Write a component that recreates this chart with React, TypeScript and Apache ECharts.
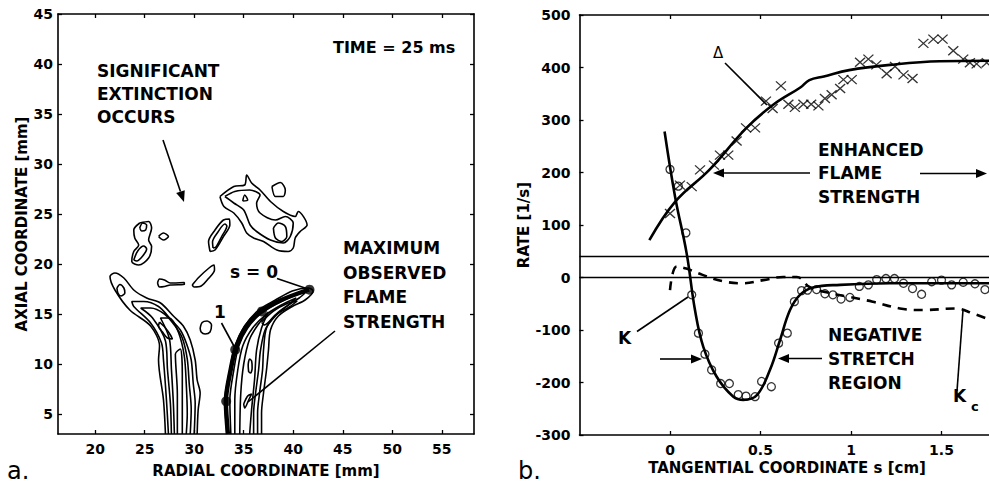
import React, { useEffect, useRef } from "react";
import * as echarts from "echarts";

// ---------- Panel b data (tangential coordinate s [cm], rate [1/s]) ----------
const deltaS = [0, 0.055, 0.12, 0.166, 0.243, 0.276, 0.322, 0.368, 0.42, 0.47, 0.53, 0.567, 0.613, 0.654, 0.69, 0.737, 0.78, 0.82, 0.856, 0.893, 0.94, 0.958, 1.004, 1.05, 1.096, 1.14, 1.197, 1.243, 1.29, 1.34, 1.4, 1.455, 1.506, 1.565, 1.62, 1.657, 1.694, 1.75];
const deltaRate = [122, 176, 173, 205, 214, 233, 233, 260, 285, 285, 336, 322, 365, 330, 324, 330, 330, 327, 341, 348, 360, 377, 377, 410, 416, 405, 388, 402, 386, 379, 446, 454, 454, 432, 416, 409, 407, 409];

const kS = [0, 0.046, 0.088, 0.12, 0.157, 0.193, 0.23, 0.28, 0.328, 0.377, 0.42, 0.47, 0.506, 0.56, 0.6, 0.648, 0.687, 0.727, 0.76, 0.81, 0.856, 0.9, 0.945, 0.994, 1.046, 1.096, 1.142, 1.193, 1.24, 1.29, 1.34, 1.39, 1.446, 1.5, 1.556, 1.62, 1.685, 1.74];
const kRate = [206, 174, 85, -33, -106, -146, -176, -202, -202, -223, -226, -227, -198, -208, -125, -106, -46, -25, -24, -23, -31, -33, -41, -38, -17, -14, -4, -2, -2, -11, -21, -32, -8, -5, -14, -9, -12, -23];

const deltaFitS = [-0.114, 0.028, 0.22, 0.42, 0.57, 0.72, 0.77, 0.85, 0.99, 1.215, 1.49, 1.77];
const deltaFitRate = [71, 144, 206, 284, 329, 362, 376, 383, 395, 405, 412, 413];

const kFitS = [-0.03, 0.028, 0.092, 0.138, 0.184, 0.258, 0.35, 0.405, 0.48, 0.552, 0.608, 0.663, 0.718, 0.79, 0.94, 1.215, 1.77];
const kFitRate = [278, 154, 46, -62, -132, -189, -227, -233, -224, -176, -119, -62, -33, -19, -14, -11, -11];

const kcS = [0, 0.037, 0.09, 0.18, 0.29, 0.405, 0.515, 0.626, 0.7, 0.77, 0.85, 0.99, 1.12, 1.27, 1.4, 1.58, 1.67, 1.77];
const kcRate = [-24, 21, 17, 5, -7, -11, -5, 1, 1, -18, -27, -37, -46, -59, -62, -59, -68, -81];

const refLines = [0, 40];

const bTicksX = [0, 0.5, 1, 1.5];
const bTicksY = [-300, -200, -100, 0, 100, 200, 300, 400, 500];

// ---------- Panel a data (radial, axial coordinate [mm]) ----------
const aTicksX = [20, 25, 30, 35, 40, 45, 50, 55];
const aTicksY = [5, 10, 15, 20, 25, 30, 35, 40, 45];

const plumeL1 = [[27.1, 3], [26.9, 6.4], [26.4, 10.4], [26.5, 11.8], [25.6, 13.8], [23.5, 15.4], [22.0, 17.4], [21.5, 18.75], [22.0, 19.1], [22.9, 18.6], [23.9, 17.4], [25.2, 16.6], [26.6, 16.1], [27.9, 14.8], [28.9, 13.8], [29.6, 12.4], [30.1, 10.4], [30.3, 8.4], [30.6, 7.1], [30.4, 5.4], [30.3, 3]];
const plumeL2 = [[27.4, 3], [27.2, 6.4], [26.9, 10.4], [26.7, 12.1], [25.6, 14.1], [23.9, 15.75], [23.7, 16.25], [24.9, 16.25], [26.4, 15.75], [27.7, 14.4], [28.6, 13.4], [29.2, 12.1], [29.7, 10.4], [29.9, 8.1], [30.1, 6.1], [30.0, 3]];
const plumeL3 = [[27.7, 3], [27.6, 6], [27.3, 9.5], [27.1, 12.3], [25.8, 14.6], [24.6, 15.6], [25.6, 15.6], [27.0, 15.0], [28.0, 13.9], [28.8, 12.6], [29.3, 10.5], [29.5, 8], [29.7, 5.5], [29.6, 3]];
const plumeL4 = [[28.0, 3], [27.9, 6], [27.7, 9.5], [27.5, 12.5], [26.6, 14.6], [27.5, 14.6], [28.4, 13.2], [29.0, 10.8], [29.2, 8], [29.3, 5], [29.2, 3]];
const plumeL5 = [[28.3, 3], [28.3, 7], [28.1, 11], [28.6, 11.5], [28.8, 9], [28.8, 5], [28.8, 3]];
const loopL1 = [[26.5, 14.2], [27.1, 13.6], [27.6, 12.9], [27.8, 12.5], [27.3, 12.6], [26.8, 13.2], [26.4, 13.8], [26.5, 14.2]];
const loopL2 = [[22.2, 17.6], [22.5, 17.95], [22.9, 17.6], [23.0, 17.1], [22.6, 16.8], [22.3, 17.1], [22.2, 17.6]];

const plumeR1 = [[33.3, 3], [33.1, 6.4], [33.6, 9.4], [34.1, 11.8], [35.1, 13.8], [36.5, 15.4], [38.2, 16.4], [39.9, 17.3], [41.5, 17.6], [42.0, 17.3], [41.2, 16.4], [39.9, 15.75], [38.5, 14.8], [37.7, 13.4], [37.5, 11.4], [37.3, 9.4], [37.0, 7.1], [36.8, 5.1], [36.8, 3]];
const plumeR2 = [[33.7, 3], [33.6, 6.4], [34.0, 9.4], [34.5, 11.8], [35.4, 13.6], [36.7, 15.0], [38.3, 16.0], [40.0, 16.8], [41.3, 17.2], [40.6, 16.6], [39.5, 15.9], [38.3, 15.0], [37.3, 13.6], [37.0, 11.4], [36.9, 9.4], [36.6, 7.1], [36.4, 5.1], [36.4, 3]];
const plumeR3 = [[34.1, 3], [34.1, 6.4], [34.4, 9.4], [34.9, 11.8], [35.9, 13.6], [37.2, 14.9], [38.8, 15.9], [40.3, 16.6], [39.4, 15.8], [38.3, 14.9], [37.2, 13.5], [36.7, 11.4], [36.5, 9.4], [36.2, 7.1], [36.0, 5.1], [36.0, 3]];
const plumeR4 = [[34.6, 3], [34.7, 7], [35.0, 10], [35.6, 12.5], [36.5, 14.0], [37.5, 15.2], [36.8, 13.6], [36.3, 11.4], [36.1, 8.5], [35.8, 5.5], [35.6, 3]];
const loopR1 = [[35.5, 9.2], [35.45, 9.9], [35.6, 10.5], [35.8, 10.3], [35.85, 9.6], [35.7, 9.1], [35.5, 9.2]];
const loopR2 = [[35.0, 6.0], [35.4, 6.8], [35.8, 7.0], [35.5, 6.4], [35.1, 5.6], [35.0, 6.0]];
const loopR3 = [[36.8, 14.2], [38.0, 15.3], [39.5, 16.1], [40.4, 16.3], [39.6, 15.7], [38.2, 14.9], [37.1, 13.9], [36.8, 14.2]];

const islandA = [[24.5, 24.1], [25.4, 24.25], [25.7, 23.6], [25.4, 22.4], [25.7, 21.75], [25.4, 20.6], [24.4, 19.9], [23.7, 20.25], [23.9, 21.25], [24.4, 21.9], [24.0, 22.6], [23.9, 23.4], [24.5, 24.1]];
const islandA1 = [[24.5, 23.6], [24.8, 24.1], [25.2, 23.9], [25.1, 23.4], [24.7, 23.3], [24.5, 23.6]];
const islandA2 = [[23.9, 20.4], [24.3, 21.3], [24.9, 21.8], [25.2, 21.5], [24.8, 20.8], [24.2, 20.3], [23.9, 20.4]];
const dotA = [[26.4, 22.75], [26.9, 23.1], [27.4, 22.75], [26.9, 22.4], [26.4, 22.75]];
const islandB = [[31.6, 21.25], [31.45, 22.25], [32.1, 23.4], [32.95, 24.4], [33.56, 24.5], [33.6, 23.9], [32.95, 22.75], [32.1, 21.4], [31.6, 21.25]];
const islandB1 = [[31.9, 21.6], [31.85, 22.2], [32.4, 23.2], [33.1, 24.0], [33.3, 23.8], [32.8, 22.8], [32.2, 21.7], [31.9, 21.6]];
const islandC = [[32.6, 26.75], [34.0, 27.75], [35.1, 27.9], [35.3, 28.9], [35.8, 28.1], [36.65, 27.4], [37.7, 26.25], [39.0, 25.25], [40.2, 24.75], [40.5, 25.25], [41.4, 23.9], [40.7, 23.25], [40.2, 22.6], [40.0, 21.6], [39.5, 21.25], [38.35, 21.4], [37.0, 22.25], [36.0, 22.6], [35.3, 23.1], [34.8, 24.1], [34.0, 25.1], [33.0, 25.75], [32.6, 26.75]];
const islandC1 = [[33.1, 26.75], [34.1, 27.25], [35.6, 27.4], [36.65, 26.9], [36.3, 26.1], [36.65, 25.1], [38.2, 24.4], [39.2, 24.75], [40.0, 24.1], [39.7, 22.75], [39.0, 22.1], [37.7, 22.4], [36.3, 23.25], [35.65, 23.9], [35.0, 25.4], [34.0, 26.1], [33.1, 26.75]];
const islandC2 = [[34.9, 26.3], [35.1, 26.9], [35.4, 26.4], [34.9, 26.3]];
const islandC3 = [[38.0, 23.6], [38.5, 24.1], [39.2, 23.75], [39.35, 22.75], [38.85, 22.25], [38.2, 22.6], [38.0, 23.6]];
const islandD = [[37.85, 27.75], [38.7, 28.15], [39.2, 27.4], [39.0, 26.75], [38.2, 26.75], [37.85, 27.75]];
const streak1 = [[26.3, 18.1], [26.5, 18.5], [27.0, 18.4], [27.6, 18.1], [29.0, 18.15], [29.0, 17.95], [27.6, 17.9], [27.0, 17.75], [26.5, 17.7], [26.3, 18.1]];
const streak2 = [[29.8, 17.9], [30.5, 18.7], [31.5, 19.6], [32.0, 19.9], [32.05, 19.4], [31.4, 18.5], [30.7, 17.8], [30.0, 17.7], [29.8, 17.9]];
const circleM = [[30.6, 13.6], [30.8, 14.15], [31.3, 14.3], [31.75, 13.9], [31.6, 13.2], [31.1, 13.0], [30.7, 13.2], [30.6, 13.6]];

const flamePath = [[33.4, 3], [33.2, 6.3], [33.7, 9.5], [34.15, 11.4], [35.2, 13.7], [36.8, 15.3], [38.8, 16.4], [41.6, 17.45]];
const flameDots = [[41.64, 17.43], [36.83, 15.26], [34.14, 11.43], [33.23, 6.27]];

const contours = [plumeL1, plumeL2, plumeL3, plumeL4, plumeL5, loopL1, loopL2, plumeR1, plumeR2, plumeR3, plumeR4, loopR1, loopR2, loopR3, islandA, islandA1, islandA2, dotA, islandB, islandB1, islandC, islandC1, islandC2, islandC3, islandD, streak1, streak2, circleM];

const FONT = '"DejaVu Sans", sans-serif';
const zip = (a: number[], b: number[]) => a.map((v, i) => [v, b[i]]);

function axisBase(extra: any) {
  return {
    type: "value",
    splitLine: { show: false },
    axisLine: { show: true, onZero: false, lineStyle: { color: "#000", width: 1.6 } },
    axisTick: { show: true, inside: true, length: 4, lineStyle: { color: "#000", width: 1.3 } },
    axisLabel: { color: "#000", fontFamily: FONT, fontWeight: "bold", fontSize: 14 },
    nameTextStyle: { color: "#000", fontFamily: FONT, fontWeight: "bold", fontSize: 15 },
    ...extra,
  };
}

function arrow(x1: number, y1: number, x2: number, y2: number) {
  const dx = x2 - x1, dy = y2 - y1;
  const len = Math.hypot(dx, dy);
  const ux = dx / len, uy = dy / len;
  const L = 11, W = 4.5;
  const bx = x2 - ux * L, by = y2 - uy * L;
  return [
    { type: "line", shape: { x1, y1, x2: bx, y2: by }, style: { stroke: "#000", lineWidth: 1.6 } },
    { type: "polygon", shape: { points: [[x2, y2], [bx - uy * W, by + ux * W], [bx + uy * W, by - ux * W]] }, style: { fill: "#000" } },
  ];
}
function leader(x1: number, y1: number, x2: number, y2: number) {
  return { type: "line", shape: { x1, y1, x2, y2 }, style: { stroke: "#000", lineWidth: 1.6 } };
}
function label(x: number, y: number, text: string, size = 17, lh = 24, weight = "bold", align = "left") {
  return {
    type: "text", x, y,
    style: { text, font: `${weight} ${size}px ${FONT}`, fill: "#000", align, verticalAlign: "top", lineHeight: lh },
  };
}

export default function App() {
  const ref = useRef<HTMLDivElement>(null);
  useEffect(() => {
    if (!ref.current) return;
    const chart = echarts.init(ref.current, null, { renderer: "svg" });
    const contourSeries = contours.map((c) => ({
      type: "line", xAxisIndex: 0, yAxisIndex: 0, data: c, showSymbol: false, symbol: "none",
      smooth: 0.3, silent: true, lineStyle: { color: "#000", width: 1.6 },
    }));
    const option: any = {
      animation: false,
      backgroundColor: "#fff",
      grid: [
        { left: 58, top: 14, width: 416, height: 420 },
        { left: 579.5, top: 15, width: 452.5, height: 420 },
      ],
      xAxis: [
        axisBase({ gridIndex: 0, position: "bottom", min: 16.25, max: 58.25,
          axisLabel: { color: "#000", fontFamily: FONT, fontWeight: "bold", fontSize: 14, margin: 8, customValues: aTicksX },
          axisTick: { show: true, inside: true, length: 4, customValues: aTicksX, lineStyle: { color: "#000", width: 1.3 } },
          name: "RADIAL COORDINATE [mm]", nameLocation: "middle", nameGap: 29 }),
        axisBase({ gridIndex: 0, position: "top", min: 16.25, max: 58.25,
          axisLabel: { show: false },
          axisTick: { show: true, inside: true, length: 4, customValues: aTicksX, lineStyle: { color: "#000", width: 1.3 } } }),
        axisBase({ gridIndex: 1, position: "bottom", min: -0.5, max: 2,
          axisLabel: { color: "#000", fontFamily: FONT, fontWeight: "bold", fontSize: 14, margin: 8, customValues: bTicksX },
          axisTick: { show: true, inside: true, length: 4, customValues: bTicksX, lineStyle: { color: "#000", width: 1.3 } } }),
        axisBase({ gridIndex: 1, position: "top", min: -0.5, max: 2,
          axisLabel: { show: false },
          axisTick: { show: true, inside: true, length: 4, customValues: bTicksX, lineStyle: { color: "#000", width: 1.3 } } }),
      ],
      yAxis: [
        axisBase({ gridIndex: 0, position: "left", min: 3, max: 45,
          axisLabel: { color: "#000", fontFamily: FONT, fontWeight: "bold", fontSize: 14, margin: 5, customValues: aTicksY },
          axisTick: { show: true, inside: true, length: 4, customValues: aTicksY, lineStyle: { color: "#000", width: 1.3 } },
          name: "AXIAL COORDINATE [mm]", nameLocation: "middle", nameGap: 25 }),
        axisBase({ gridIndex: 0, position: "right", min: 3, max: 45,
          axisLabel: { show: false },
          axisTick: { show: true, inside: true, length: 4, customValues: aTicksY, lineStyle: { color: "#000", width: 1.3 } } }),
        axisBase({ gridIndex: 1, position: "left", min: -300, max: 500,
          axisLabel: { color: "#000", fontFamily: FONT, fontWeight: "bold", fontSize: 14, margin: 9, customValues: bTicksY },
          axisTick: { show: true, inside: true, length: 4, customValues: bTicksY, lineStyle: { color: "#000", width: 1.3 } },
          name: "RATE [1/s]", nameLocation: "middle", nameGap: 45 }),
      ],
      series: [
        ...contourSeries,
        { type: "line", xAxisIndex: 0, yAxisIndex: 0, data: flamePath, showSymbol: false, symbol: "none", smooth: 0.3,
          lineStyle: { color: "#000", width: 4.5 } },
        { type: "scatter", xAxisIndex: 0, yAxisIndex: 0, data: flameDots, symbolSize: 10, itemStyle: { color: "#000" } },
        { type: "line", xAxisIndex: 2, yAxisIndex: 2, data: zip(deltaFitS, deltaFitRate), showSymbol: false, symbol: "none", smooth: 0.4,
          lineStyle: { color: "#000", width: 2.6 },
          markLine: { silent: true, symbol: "none", label: { show: false },
            lineStyle: { color: "#000", width: 1.4, type: "solid" }, data: refLines.map((v) => ({ yAxis: v })) } },
        { type: "line", xAxisIndex: 2, yAxisIndex: 2, data: zip(kFitS, kFitRate), showSymbol: false, symbol: "none", smooth: 0.4,
          lineStyle: { color: "#000", width: 2.6 } },
        { type: "line", xAxisIndex: 2, yAxisIndex: 2, data: zip(kcS, kcRate), showSymbol: false, symbol: "none", smooth: 0.4,
          lineStyle: { color: "#000", width: 2.6, type: [9, 7] } },
        { type: "scatter", xAxisIndex: 2, yAxisIndex: 2, data: zip(deltaS, deltaRate), symbol: "path://M0,0L10,10M10,0L0,10",
          symbolSize: [10, 9], itemStyle: { color: "none", borderColor: "#000", borderWidth: 1.3 } },
        { type: "scatter", xAxisIndex: 2, yAxisIndex: 2, data: zip(kS, kRate), symbol: "circle",
          symbolSize: 8, itemStyle: { color: "rgba(255,255,255,0)", borderColor: "#000", borderWidth: 1.3 } },
      ],
      graphic: [
        // panel a annotations
        label(97, 59.5, "SIGNIFICANT\nEXTINCTION\nOCCURS", 17, 23),
        ...arrow(163, 140, 184, 202),
        label(333, 35, "TIME = 25 ms", 16),
        label(343, 235.5, "MAXIMUM\nOBSERVED\nFLAME\nSTRENGTH", 17, 24.7),
        label(230, 260, "s = 0", 17),
        leader(277, 278.5, 306.5, 288.5),
        label(214, 300, "1", 17),
        leader(221.5, 323, 235, 348),
        leader(335, 331, 248, 402),
        label(7, 456, "a.", 24, 30, "normal"),
        // panel b annotations
        label(713, 42, "Δ", 15, 22, "normal"),
        leader(725, 63, 767, 105),
        label(818, 138, "ENHANCED\nFLAME\nSTRENGTH", 17, 23.5),
        ...arrow(810, 173, 713, 173),
        ...arrow(920, 173.5, 987, 173.5),
        label(618, 326, "K", 17),
        leader(637, 331.5, 688, 297),
        label(828, 323, "NEGATIVE\nSTRETCH\nREGION", 17, 24),
        ...arrow(660, 359, 702, 359),
        ...arrow(822, 358.5, 778, 358.5),
        label(953, 384, "K", 17),
        label(971, 397, "c", 13, 18),
        leader(957, 391, 963, 310),
        label(787, 459.5, "TANGENTIAL COORDINATE s [cm]", 15, 16, "bold", "center"),
        label(518, 456, "b.", 24, 30, "normal"),
      ],
    };
    chart.setOption(option);
    return () => chart.dispose();
  }, []);
  return (
    <div style={{ position: "absolute", left: 0, top: 0, width: 989, height: 485, overflow: "hidden", background: "#fff" }}>
      <div ref={ref} style={{ width: 1040, height: 485 }} />
    </div>
  );
}
